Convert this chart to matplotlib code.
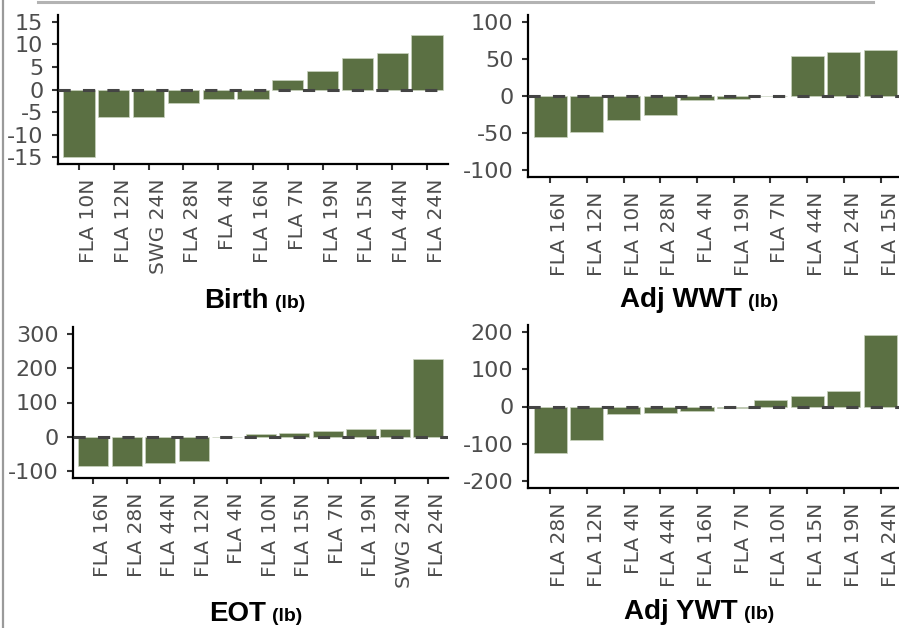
import matplotlib
matplotlib.use("Agg")
import matplotlib.pyplot as plt
from matplotlib.lines import Line2D
import numpy as np

plt.rcParams['axes.unicode_minus'] = False

W, H = 899, 628

# data
birth_labels = ["FLA 10N", "FLA 12N", "SWG 24N", "FLA 28N", "FLA 4N", "FLA 16N",
                "FLA 7N", "FLA 19N", "FLA 15N", "FLA 44N", "FLA 24N"]
birth_values = [-15, -6, -6, -3, -2, -2, 2, 4, 7, 8, 12]

wwt_labels = ["FLA 16N", "FLA 12N", "FLA 10N", "FLA 28N", "FLA 4N", "FLA 19N",
              "FLA 7N", "FLA 44N", "FLA 24N", "FLA 15N"]
wwt_values = [-56, -49, -32, -26, -5, -4, 0.5, 55, 60, 62]

eot_labels = ["FLA 16N", "FLA 28N", "FLA 44N", "FLA 12N", "FLA 4N", "FLA 10N",
              "FLA 15N", "FLA 7N", "FLA 19N", "SWG 24N", "FLA 24N"]
eot_values = [-86, -84, -76, -70, -1, 8, 10, 17, 22, 22, 228]

ywt_labels = ["FLA 28N", "FLA 12N", "FLA 4N", "FLA 44N", "FLA 16N", "FLA 7N",
              "FLA 10N", "FLA 15N", "FLA 19N", "FLA 24N"]
ywt_values = [-125, -90, -21, -18, -12, -4, 18, 29, 42, 192]

bar_color = "#5b7043"

# panel boxes in pixels: left, right, top, bottom (from top of image)
panels = [
    (birth_labels, birth_values, (58, 448, 15, 164), (-16.5, 16.5), [-15, -10, -5, 0, 5, 10, 15],
     "Birth", (255, 308)),
    (wwt_labels, wwt_values, (528, 902.7, 15, 177), (-110, 110), [-100, -50, 0, 50, 100],
     "Adj WWT", (699, 307)),
    (eot_labels, eot_values, (73, 448.4, 327, 478), (-120, 320), [-100, 0, 100, 200, 300],
     "EOT", (256, 621)),
    (ywt_labels, ywt_values, (528, 902.7, 325, 488), (-220, 220), [-200, -100, 0, 100, 200],
     "Adj YWT", (699, 619)),
]

fig = plt.figure(figsize=(W / 100, H / 100), dpi=100)
fig.patch.set_facecolor("white")

titles = []
for labels, values, (l, r, t, b), ylim, yticks, title, tpos in panels:
    ax = fig.add_axes([l / W, (H - b) / H, (r - l) / W, (b - t) / H])
    x = np.arange(len(labels))
    ax.bar(x, values, width=0.9, color=bar_color, edgecolor="#c9d3bf", linewidth=0.5, zorder=2)
    ax.axhline(0, color="#444444", linewidth=2.2, linestyle=(0, (4, 4)), zorder=3)
    ax.set_xlim(-0.6, len(labels) - 0.4)
    ax.set_ylim(*ylim)
    ax.set_yticks(yticks)
    ax.set_yticklabels([str(v) for v in yticks])
    ax.set_xticks(x)
    ax.set_xticklabels(labels, rotation=90, ha="left")
    for s in ["top", "right"]:
        ax.spines[s].set_visible(False)
    for s in ["left", "bottom"]:
        ax.spines[s].set_linewidth(1.6)
        ax.spines[s].set_color("black")
    ax.tick_params(axis="both", direction="out", length=4.5, width=1.5, color="#333333",
                   labelcolor="#4d4d4d")
    ax.tick_params(axis="y", pad=6, labelsize=16)
    ax.tick_params(axis="x", pad=6, labelsize=14.5)
    ax.set_facecolor("none")
    titles.append((title, tpos))

# axis titles: bold name plus smaller bold unit
r = fig.canvas.get_renderer()
for title, (cx, base) in titles:
    t1 = fig.text(0, 0, title, family="Liberation Sans", weight="bold", fontsize=20,
                  va="baseline", ha="left", transform=None)
    t2 = fig.text(0, 0, "(lb)", family="Liberation Sans", weight="bold", fontsize=14,
                  va="baseline", ha="left", transform=None)
    w1 = t1.get_window_extent(r).width
    w2 = t2.get_window_extent(r).width
    gap = 6
    x0 = cx - (w1 + gap + w2) / 2
    t1.set_position((x0, H - base))
    t2.set_position((x0 + w1 + gap, H - base))

# gray frame edges from the screenshot
fig.add_artist(Line2D([3 / W, 3 / W], [0, 1], color="#9a9a9a", linewidth=1.6))
fig.add_artist(Line2D([38 / W, 873 / W], [1 - 1.5 / H, 1 - 1.5 / H], color="#b3b3b3", linewidth=2.2))

fig.savefig("out.png", dpi=100)
